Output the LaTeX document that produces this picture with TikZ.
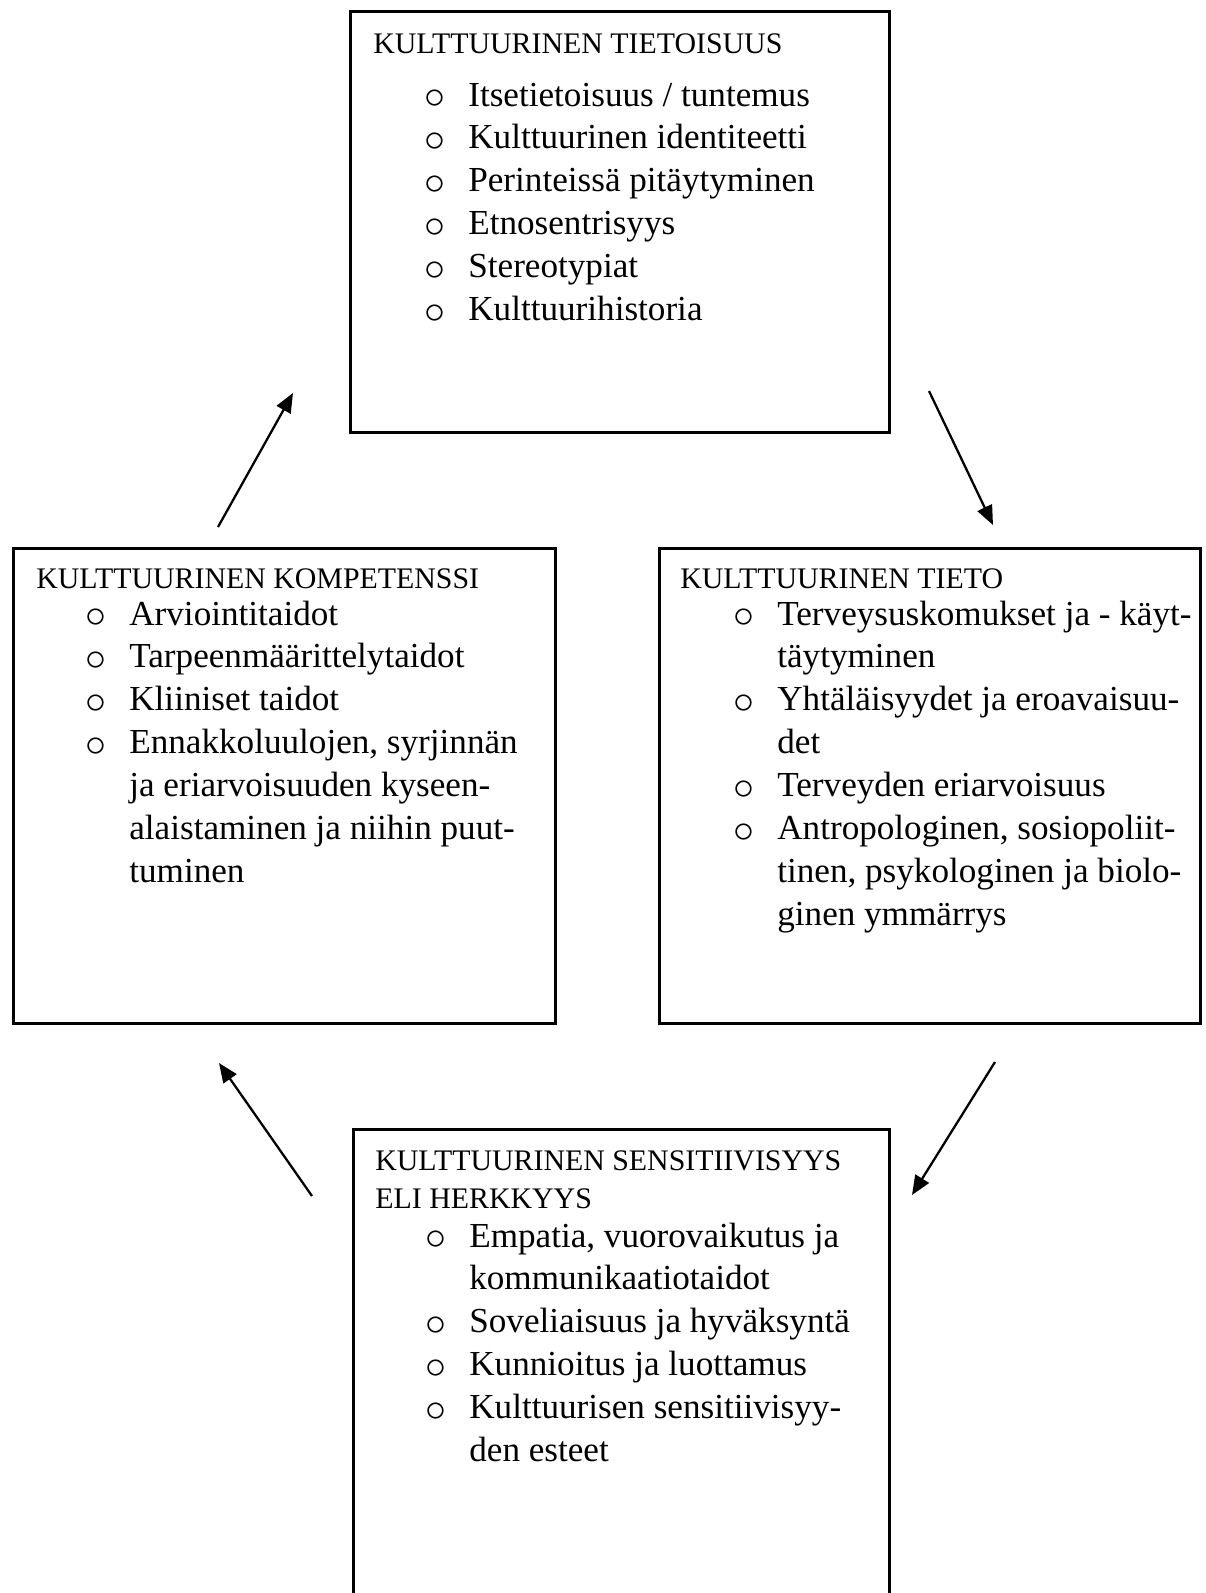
\documentclass[tikz,border=0pt]{standalone}
\usepackage{fontspec}
\setmainfont{Liberation Serif}
\setmonofont{Liberation Mono}
\usetikzlibrary{positioning, arrows.meta, calc}

\newcommand{\bul}{\hspace*{1pt}\raisebox{-1.6pt}{\scalebox{1.15}{$\circ$}}}

\begin{document}
\begin{tikzpicture}[x=0.02cm, y=-0.02cm, >={Triangle[length=11pt, width=9pt]},
    box/.style={draw, line width=1.6pt, rectangle, anchor=north west, inner sep=0pt},
    heading/.style={anchor=base west, inner sep=0pt, font=\fontsize{17}{21.9}\selectfont},
    items/.style={anchor=base west, inner sep=0pt, font=\fontsize{20}{24.4}\selectfont},
    cycle/.style={->, line width=1.3pt}]
    \clip (0,0) rectangle (1206,1593);
    \fill[white] (0,0) rectangle (1206,1593);

    % the four boxes
    \node[box, minimum width=10.78cm, minimum height=8.42cm] (aware) at (349,10) {};
    \node[box, minimum width=10.82cm, minimum height=9.5cm] (know) at (658,547) {};
    \node[box, minimum width=10.84cm, minimum height=9.5cm] (comp) at (12,547) {};
    \node[box, minimum width=10.72cm, minimum height=9.7cm] (sense) at (352,1128) {};

    % texts
    \node[heading] (awaretitle) at ($(aware.north west)+(24,43)$) {KULTTUURINEN TIETOISUUS};
    \node[items] (awarelist) at ($(aware.north west)+(73,96)$) {\begin{tabular}[t]{@{}p{0.92cm}@{}l@{}}
        \bul & Itsetietoisuus / tuntemus\\
        \bul & Kulttuurinen identiteetti\\
        \bul & Perinteissä pitäytyminen\\
        \bul & Etnosentrisyys\\
        \bul & Stereotypiat\\
        \bul & Kulttuurihistoria
    \end{tabular}};

    \node[heading] (knowtitle) at ($(know.north west)+(22,41)$) {KULTTUURINEN TIETO};
    \node[items] (knowlist) at ($(know.north west)+(73,78)$) {\begin{tabular}[t]{@{}p{0.92cm}@{}l@{}}
        \bul & Terveysuskomukset ja - käyt-\\
             & täytyminen\\
        \bul & Yhtäläisyydet ja eroavaisuu-\\
             & det\\
        \bul & Terveyden eriarvoisuus\\
        \bul & Antropologinen, sosiopoliit-\\
             & tinen, psykologinen ja biolo-\\
             & ginen ymmärrys
    \end{tabular}};

    \node[heading] (comptitle) at ($(comp.north west)+(24,41)$) {KULTTUURINEN KOMPETENSSI};
    \node[items] (complist) at ($(comp.north west)+(71,78)$) {\begin{tabular}[t]{@{}p{0.92cm}@{}l@{}}
        \bul & Arviointitaidot\\
        \bul & Tarpeenmäärittelytaidot\\
        \bul & Kliiniset taidot\\
        \bul & Ennakkoluulojen, syrjinnän\\
             & ja eriarvoisuuden kyseen-\\
             & alaistaminen ja niihin puut-\\
             & tuminen
    \end{tabular}};

    \node[heading] (sensetitle) at ($(sense.north west)+(23,42)$) {\begin{tabular}[t]{@{}l@{}}
        KULTTUURINEN SENSITIIVISYYS\\
        ELI HERKKYYS
    \end{tabular}};
    \node[items] (senselist) at ($(sense.north west)+(71,119)$) {\begin{tabular}[t]{@{}p{0.92cm}@{}l@{}}
        \bul & Empatia, vuorovaikutus ja\\
             & kommunikaatiotaidot\\
        \bul & Soveliaisuus ja hyväksyntä\\
        \bul & Kunnioitus ja luottamus\\
        \bul & Kulttuurisen sensitiivisyy-\\
             & den esteet
    \end{tabular}};

    % arrow ends
    \coordinate (comptail) at (218,527);
    \coordinate (awarehead) at (293,393);
    \coordinate (awaretail) at (929,391);
    \coordinate (knowhead) at (993,525);
    \coordinate (knowtail) at (995,1062);
    \coordinate (sensehead) at (912,1195);
    \coordinate (sensetail) at (312,1196);
    \coordinate (comphead) at (219,1063);

    \draw[cycle] (comptail) -- (awarehead);
    \draw[cycle] (awaretail) -- (knowhead);
    \draw[cycle] (knowtail) -- (sensehead);
    \draw[cycle] (sensetail) -- (comphead);
\end{tikzpicture}
\end{document}
